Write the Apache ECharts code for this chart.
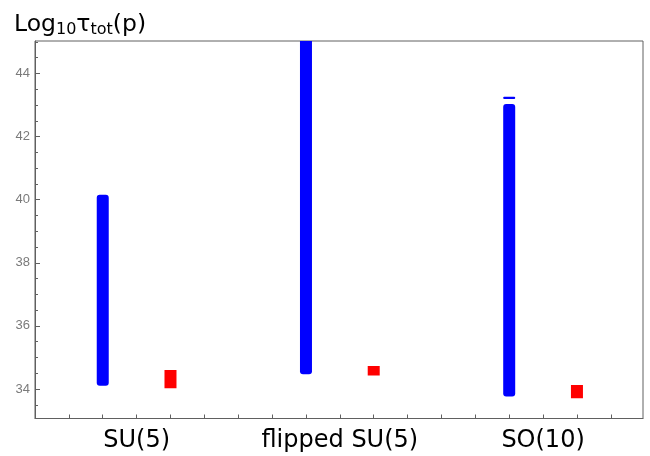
<!DOCTYPE html>
<html>
<head>
<meta charset="utf-8">
<script src="https://cdn.jsdelivr.net/npm/echarts@6/dist/echarts.min.js"></script>
<style>html,body{margin:0;padding:0;background:#fff;}#c{width:650px;height:456px;}</style>
</head>
<body>
<div id="c"></div>
<script>
// ---- data ----
const categories = ['SU(5)', 'flipped SU(5)', 'SO(10)'];
const categoryPos = [3, 9, 15];
const bluePos = [2, 8, 14];
const blueLow = [34.10, 34.47, 33.76];
const blueHigh = [40.16, 45.60, 43.03];
const blueExtraPos = [14];
const blueExtraLow = [43.19];
const blueExtraHigh = [43.26];
const redPos = [4, 10, 16];
const redLow = [34.02, 34.43, 33.71];
const redHigh = [34.60, 34.73, 34.13];
const yMajorTicks = [34, 36, 38, 40, 42, 44];
const yMinorTicks = [33.5, 34.5, 35, 35.5, 36.5, 37, 37.5, 38.5, 39, 39.5, 40.5, 41, 41.5, 42.5, 43, 43.5, 44.5, 45];
const yRange = [33.065, 45.03];
const xRange = [0, 17.95];

const chart = echarts.init(document.getElementById('c'), null, {renderer: 'canvas'});

function bandItem(radius) {
  return function (params, api) {
    const x = api.value(0);
    const top = api.coord([x, api.value(2)]);
    const bot = api.coord([x, api.value(1)]);
    const w = 12;
    return {
      type: 'rect',
      shape: {x: top[0] - w / 2, y: top[1], width: w, height: bot[1] - top[1], r: radius},
      style: api.style()
    };
  };
}

const blueData = bluePos.map((p, i) => [p, blueLow[i], blueHigh[i]]);
const blueExtraData = blueExtraPos.map((p, i) => [p, blueExtraLow[i], blueExtraHigh[i]]);
const redData = redPos.map((p, i) => [p, redLow[i], redHigh[i]]);

const frameColor = '#606060';

chart.setOption({
  animation: false,
  title: {
    left: 9, top: 7,
    text: '{m|Log}{s|10}{m|τ}{s|tot}{m|(p)}',
    textStyle: {
      fontWeight: 'normal',
      rich: {
        m: {fontFamily: 'DejaVu Sans', fontSize: 23.5, fontWeight: 'normal', color: '#000'},
        s: {fontFamily: 'DejaVu Sans', fontSize: 16, fontWeight: 'normal', color: '#000', padding: [10, 0, 0, 0]}
      }
    }
  },
  grid: {left: 35, right: 7, top: 41, bottom: 37.5, show: true, borderColor: frameColor, borderWidth: 1, backgroundColor: 'transparent'},
  xAxis: {
    type: 'value', min: xRange[0], max: xRange[1], interval: 1,
    axisLine: {show: true, lineStyle: {color: frameColor, width: 1}},
    axisTick: {show: true, inside: true, length: 4, lineStyle: {color: frameColor}},
    splitLine: {show: false},
    axisLabel: {
      show: true, margin: 10, fontFamily: 'DejaVu Sans', fontSize: 24, color: '#000',
      showMinLabel: false, showMaxLabel: false,
      formatter: function (v) {
        const i = categoryPos.indexOf(Math.round(v * 100) / 100);
        return i >= 0 ? categories[i] : '';
      }
    }
  },
  yAxis: [{
    type: 'value', min: yRange[0], max: yRange[1],
    axisLine: {show: true, lineStyle: {color: frameColor, width: 1}},
    axisTick: {show: true, inside: true, length: 5, customValues: yMajorTicks, lineStyle: {color: frameColor}},
    splitLine: {show: false},
    axisLabel: {show: true, customValues: yMajorTicks, margin: 5, fontFamily: 'Liberation Sans', fontSize: 13, color: '#7a7a7a'}
  }, {
    type: 'value', min: yRange[0], max: yRange[1], position: 'left',
    axisLine: {show: false},
    axisTick: {show: true, inside: true, length: 3, customValues: yMinorTicks, lineStyle: {color: frameColor}},
    splitLine: {show: false},
    axisLabel: {show: false}
  }],
  series: [
    {type: 'custom', name: 'blue', clip: true, renderItem: bandItem(3), itemStyle: {color: '#0000ff'}, encode: {x: 0, y: [1, 2]}, data: blueData},
    {type: 'custom', name: 'blueExtra', clip: true, renderItem: bandItem(1), itemStyle: {color: '#0000ff'}, encode: {x: 0, y: [1, 2]}, data: blueExtraData},
    {type: 'custom', name: 'red', clip: true, renderItem: bandItem(0), itemStyle: {color: '#ff0000'}, encode: {x: 0, y: [1, 2]}, data: redData}
  ]
});
</script>
</body>
</html>
